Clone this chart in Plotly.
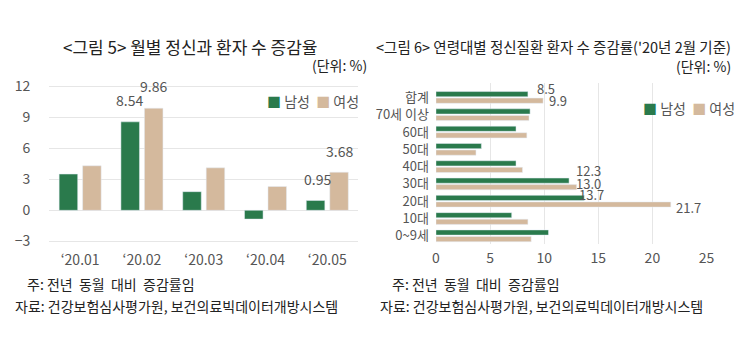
import plotly.graph_objects as go

W, H = 745, 342

# ---- data: left chart (monthly) ----
months = ["‘20.01", "‘20.02", "‘20.03", "‘20.04", "‘20.05"]
male_month = [3.5, 8.54, 1.8, -0.85, 0.95]
female_month = [4.3, 9.86, 4.1, 2.3, 3.68]
left_yticks = [-3, 0, 3, 6, 9, 12]

# ---- data: right chart (age groups, Feb 2020) ----
ages = ["합계", "70세 이상", "60대", "50대", "40대", "30대", "20대", "10대", "0~9세"]
male_age = [8.5, 8.7, 7.4, 4.2, 7.4, 12.3, 13.7, 7.0, 10.4]
female_age = [9.9, 8.6, 8.4, 3.7, 8.0, 13.0, 21.7, 8.5, 8.8]
right_xticks = [0, 5, 10, 15, 20, 25]

GREEN = "#2a7a4c"
BEIGE = "#d4b99d"
FONT = "Noto Sans CJK KR"
TICK = "#555555"
GRID = "#e6e6e6"

def px_x(p):
    return p / W

def px_y(p):
    return 1 - p / H

fig = go.Figure()

fig.add_trace(go.Bar(x=months, y=male_month, name="남성", marker_color=GREEN,
                     xaxis="x", yaxis="y", showlegend=False))
fig.add_trace(go.Bar(x=months, y=female_month, name="여성", marker_color=BEIGE,
                     xaxis="x", yaxis="y", showlegend=False))
fig.add_trace(go.Bar(y=ages, x=male_age, name="남성", orientation="h", marker_color=GREEN,
                     xaxis="x2", yaxis="y2", showlegend=False, offsetgroup="m"))
fig.add_trace(go.Bar(y=ages, x=female_age, name="여성", orientation="h", marker_color=BEIGE,
                     xaxis="x2", yaxis="y2", showlegend=False, offsetgroup="f"))

ann = []
# value labels, left chart
left_labels = [(1, male_month, -12, 10), (1, female_month, 12, 10),
               (4, male_month, -10, 9), (4, female_month, 12, 9)]
for i, arr, xs, ys in left_labels:
    ann.append(dict(x=months[i], y=arr[i], xref="x", yref="y", text=f"{arr[i]:.2f}",
                    showarrow=False, xshift=xs, yshift=ys, xanchor="center", yanchor="bottom",
                    font=dict(family=FONT, size=14, color=TICK)))

# value labels, right chart
right_labels = [(0, male_age, 7, 9), (0, female_age, 4, -3),
                (5, male_age, 5, 13), (5, female_age, -3, 0),
                (6, male_age, -7, 7), (6, female_age, 3, -6)]
for i, arr, xs, ys in right_labels:
    ann.append(dict(x=arr[i], y=ages[i], xref="x2", yref="y2", text=f"{arr[i]:.1f}",
                    showarrow=False, xshift=xs, yshift=ys, xanchor="left", yanchor="middle",
                    font=dict(family=FONT, size=13, color=TICK)))

def txt(x, y, text, size=14, color="#222", xanchor="center"):
    return dict(x=px_x(x), y=px_y(y), xref="paper", yref="paper", showarrow=False,
                xanchor=xanchor, yanchor="middle", text=text,
                font=dict(family=FONT, size=size, color=color))

legend_text = (f"<span style='color:{GREEN}'>■</span> 남성  "
               f"<span style='color:{BEIGE}'>■</span> 여성")
ann.append(txt(265, 98, legend_text, 14, TICK, "left"))
ann.append(txt(647, 105, legend_text, 14, TICK, "left"))

# titles
ann.append(txt(190, 43, "<그림 5> 월별 정신과 환자 수 증감율", 17))
ann.append(txt(371, 61, "(단위: %)", 14, "#222", "right"))
ann.append(txt(741, 42, "<그림 6> 연령대별 정신질환 환자 수 증감률('20년 2월 기준)", 14.5, "#222", "right"))
ann.append(txt(741, 62, "(단위: %)", 14, "#222", "right"))

# notes
for xx in [21, 392]:
    ann.append(txt(xx, 286, "주: 전년  동월  대비  증감률임", 14, "#222", "left"))
for xx in [9, 380]:
    ann.append(txt(xx, 308, "자료: 건강보험심사평가원, 보건의료빅데이터개방시스템", 14, "#222", "left"))

fig.update_layout(
    width=W, height=H, margin=dict(l=0, r=0, t=0, b=0),
    paper_bgcolor="white", plot_bgcolor="white",
    barmode="group", bargap=0.24, bargroupgap=0.21,
    font=dict(family=FONT, color=TICK),
    xaxis=dict(domain=[px_x(46), px_x(360)], showgrid=False, showline=False, ticks="",
               tickfont=dict(size=14, color=TICK), anchor="y", ticklabelstandoff=2),
    yaxis=dict(domain=[px_y(248.4), px_y(76.6)], range=[-3.6, 12.6], tickvals=left_yticks,
               showgrid=True, gridcolor=GRID, zeroline=True, zerolinecolor=GRID,
               zerolinewidth=1, ticks="", tickfont=dict(size=14, color=TICK),
               anchor="x", ticklabelstandoff=18),
    xaxis2=dict(domain=[px_x(439), px_x(714)], range=[0, 25], tickvals=right_xticks,
                showgrid=True, gridcolor=GRID, zeroline=False, ticks="",
                tickfont=dict(size=14, color=TICK), anchor="y2", ticklabelstandoff=4),
    yaxis2=dict(domain=[px_y(245.2), px_y(79.8)], autorange="reversed", showgrid=False,
                ticks="", tickfont=dict(size=13, color=TICK), anchor="x2",
                ticklabelstandoff=6),
    annotations=ann,
)

fig.write_html("out.html")
